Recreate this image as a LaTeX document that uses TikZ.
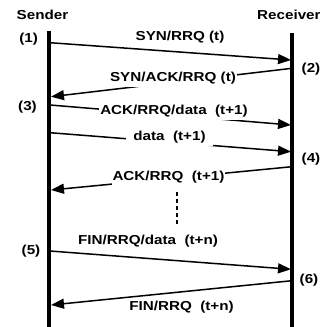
\documentclass[tikz,border=0pt]{standalone}
\usepackage{fontspec}
\setmainfont{Liberation Sans}[FakeStretch=1.17]
\usetikzlibrary{arrows.meta,positioning}

\tikzset{
  lifeline/.style={line width=3.5pt},
  msg/.style={line width=1.5pt, -{Triangle[length=13pt,width=10pt]}},
  lbl/.style={font=\fontsize{13}{15}\selectfont\bfseries, inner sep=0pt, anchor=base},
  cut/.style={lbl, fill=white, inner xsep=1pt, inner ysep=3pt},
}

\begin{document}
\begin{tikzpicture}[x=1pt, y=-1pt]
  \useasboundingbox (0,0) rectangle (320,327);

  % Lifelines
  \node[lbl] (sender) at (42.5,19.3) {Sender};
  \node[lbl, anchor=base west] (receiver) at (257,19.3) {Receiver};
  \coordinate (stop) at (49,31);
  \coordinate (sbot) at (49,327);
  \coordinate (rtop) at (292,33);
  \coordinate (rbot) at (292,327);
  \draw[lifeline] (stop) -- (sbot);
  \draw[lifeline] (rtop) -- (rbot);

  % Event points
  \coordinate (s1) at (50,42.7);   \coordinate (r1) at (291,60);
  \coordinate (r2) at (292,68.3);  \coordinate (s2) at (51,96.7);
  \coordinate (s3) at (50,105);    \coordinate (r3) at (291,125);
  \coordinate (s4) at (50,132.7);  \coordinate (r4) at (291,151.7);
  \coordinate (r5) at (292,166.7); \coordinate (s5) at (51,190);
  \coordinate (s6) at (50,251);    \coordinate (r6) at (291,269.3);
  \coordinate (r7) at (292,280.7); \coordinate (s7) at (51,305);

  % Messages
  \draw[msg] (s1) -- (r1);
  \draw[msg] (r2) -- (s2);
  \draw[msg] (s3) -- (r3);
  \draw[msg] (s4) -- (r4);
  \draw[msg] (r5) -- (s5);
  \draw[msg] (s6) -- (r6);
  \draw[msg] (r7) -- (s7);

  % Message labels
  \node[lbl] (m1) at (180,40.5) {SYN/RRQ (t)};
  \node[cut] (m2) at (173,81) {SYN/ACK/RRQ (t)};
  \node[cut] (m3) at (174,114.3) {ACK/RRQ/data\ \ (t+1)};
  \node[cut, inner xsep=7pt] (m4) at (169.5,140.3) {data\ \ (t+1)};
  \node[cut] (m5) at (168.5,180.3) {ACK/RRQ\ \ (t+1)};
  \node[lbl] (m6) at (148,244.3) {FIN/RRQ/data\ \ (t+n)};
  \node[lbl] (m7) at (181.5,310.3) {FIN/RRQ\ \ (t+n)};

  % Step numbers
  \node[lbl] (n1) at (28.7,42.3) {(1)};
  \node[lbl] (n2) at (311,72.3) {(2)};
  \node[lbl] (n3) at (27.5,110.6) {(3)};
  \node[lbl] (n4) at (311,162.3) {(4)};
  \node[lbl] (n5) at (31,254.3) {(5)};
  \node[lbl] (n6) at (309,283.3) {(6)};

  % Gap in the transfer
  \coordinate (gtop) at (177,192);
  \coordinate (gbot) at (177,225);
  \draw[line width=2.5pt, dash pattern=on 4pt off 3pt] (gtop) -- (gbot);
\end{tikzpicture}
\end{document}
